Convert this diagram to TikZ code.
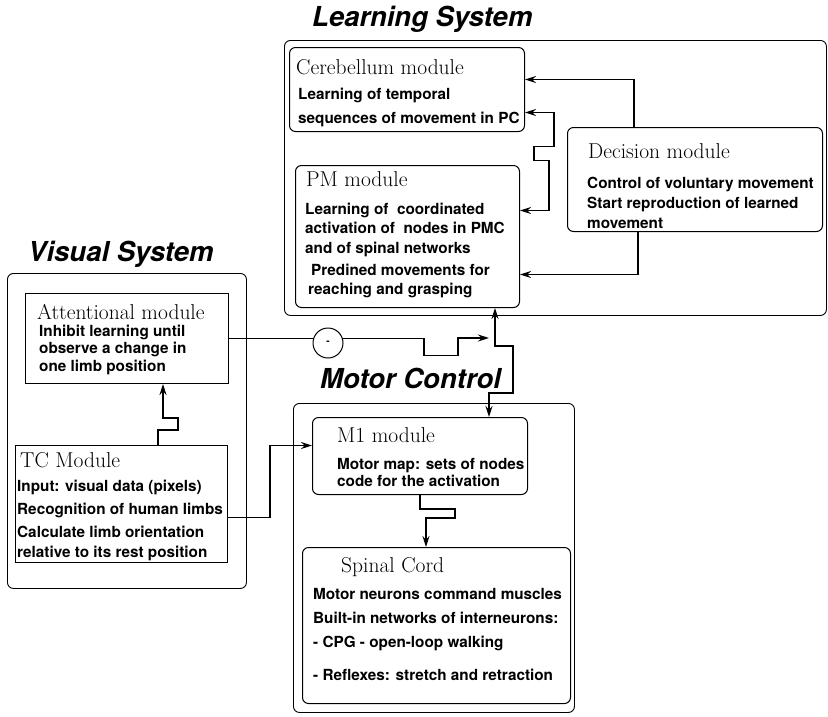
\documentclass[tikz,border=0pt]{standalone}
\usepackage{fontspec}
\setsansfont{TeX Gyre Heros}
\usetikzlibrary{arrows.meta,positioning}

\begin{document}
\begin{tikzpicture}[
  x=1pt,y=-1pt,
  >={Stealth[length=11pt,width=7pt]},
  sysframe/.style={draw,rounded corners=6pt,line width=0.9pt,anchor=north west,inner sep=0pt},
  modbox/.style={draw,rounded corners=6pt,line width=1pt,anchor=north west,inner sep=0pt},
  flatbox/.style={draw,line width=1pt,anchor=north west,inner sep=0pt},
  systitle/.style={anchor=base west,inner sep=0pt,font=\sffamily\bfseries\itshape\fontsize{27.5}{30}\selectfont},
  modhead/.style={inner sep=0pt,font=\fontsize{21.5}{24}\selectfont},
  modtext/.style={inner sep=0pt,align=left,font=\sffamily\bfseries\fontsize{15.3}{#1}\selectfont},
  modtext/.default=20,
  conn/.style={line width=1.3pt},
  inhibit/.style={draw,circle,fill=white,line width=1pt,minimum size=30pt,inner sep=0pt,font=\sffamily\bfseries}
]
\useasboundingbox (0,0) rectangle (828,716);

% system frames
\node[sysframe,minimum width=542pt,minimum height=275pt] (learn) at (284,40) {};
\node[systitle] (learntitle) at (312,26) {Learning System};
\node[sysframe,minimum width=239pt,minimum height=315pt] (vis) at (7,273) {};
\node[systitle] (vistitle) at (28,261) {Visual System};
\node[sysframe,minimum width=281pt,minimum height=309pt] (mot) at (293,403) {};
\node[systitle] (mottitle) at (320,388) {Motor Control};

% learning system
\node[modbox,minimum width=235pt,minimum height=84pt] (cer) at (289,47) {};
\node[modhead,below right=12pt and 7pt of cer.north west] (cerhead) {Cerebellum module};
\node[modtext=24,below right=40.6pt and 9pt of cer.north west] (certext)
  {Learning of temporal\\sequences of movement in PC};

\node[modbox,minimum width=224pt,minimum height=142pt] (pm) at (295,165) {};
\node[modhead,below right=6pt and 11pt of pm.north west] (pmhead) {PM module};
\node[modtext=19.5,below right=37.6pt and 10pt of pm.north west] (pmtext)
  {Learning of\ \ coordinated\\activation of\ \ nodes in PMC\\and of spinal networks};
\node[modtext=19,below right=98.6pt and 13pt of pm.north west] (pmmoves)
  {\hspace{3pt}Predined movements for\\reaching and grasping};

\node[modbox,minimum width=255pt,minimum height=104pt] (dec) at (567,127) {};
\node[modhead,below right=16pt and 21pt of dec.north west] (dechead) {Decision module};
\node[modtext=20,below right=49.6pt and 20pt of dec.north west] (dectext)
  {Control of voluntary movement\\Start reproduction of learned\\movement};

% visual system
\node[flatbox,minimum width=203pt,minimum height=90pt] (att) at (25,293) {};
\node[modhead,below right=11pt and 12pt of att.north west] (atthead) {Attentional module};
\node[modtext=17.5,below right=31.6pt and 14pt of att.north west] (atttext)
  {Inhibit learning until\\observe a change in\\one limb position};

\node[flatbox,minimum width=212pt,minimum height=117pt] (tc) at (15,445) {};
\node[modhead,below right=7pt and 5pt of tc.north west] (tchead) {TC Module};
\node[modtext=23,below right=34.6pt and 2pt of tc.north west] (tctext)
  {Input: visual data (pixels)\\Recognition of human limbs\\Calculate limb orientation\\[-3pt]relative to its rest position};

% motor control
\node[modbox,minimum width=215pt,minimum height=77pt] (m1) at (312,417) {};
\node[modhead,below right=10pt and 25pt of m1.north west] (m1head) {M1 module};
\node[modtext=17,below right=41.6pt and 25pt of m1.north west] (m1text)
  {Motor map: sets of nodes\\code for the activation};

\node[modbox,minimum width=268pt,minimum height=156pt] (spc) at (302,547) {};
\node[modhead,below right=10pt and 39pt of spc.north west] (spchead) {Spinal Cord};
\node[modtext=24,below right=41.6pt and 11pt of spc.north west] (spctext)
  {Motor neurons command muscles\\Built-in networks of interneurons:\\- CPG - open-loop walking\\[9pt]- Reflexes: stretch and retraction};

% connectors
\coordinate (tap) at (495,338);
\coordinate (bend) at (489,393);
\draw[conn,->] ([xshift=67pt]dec.north west) |- ([yshift=10pt]cer.east);
\draw[conn,<->] ([yshift=-23pt]cer.east) -| ++(29,34) -- ++(-20,0) -- ++(0,14) -- ++(15,0) |- ([yshift=26pt]pm.east);
\draw[conn,->] ([xshift=71pt]dec.south west) |- ([yshift=-38pt]pm.east);
\draw[conn,->] (att.east) -- ++(195,0) -- ++(0,17) -- ++(34,0) |- ([xshift=-6pt]tap);
\node[inhibit] (minus) at (328,343) {\raisebox{-3pt}{-}};
\draw[conn,<->] (tap |- pm.south) |- ++(18,38) |- (bend) -- (bend |- m1.north);
\draw[conn,->] ([xshift=143pt]tc.north west) -- ++(0,-15) -- ++(20,0) -- ++(0,-12) -- ++(-15,0) -- ([xshift=138pt]att.south west);
\draw[conn,->] ([yshift=-13.5pt]tc.east) -- ++(42,0) |- ([yshift=10.5pt]m1.west);
\draw[conn,->] (m1.south) -- ++(0,14) -- ++(35,0) -- ++(0,9) -- ++(-29,0) -- ([xshift=-10.5pt]spc.north);
\end{tikzpicture}
\end{document}
